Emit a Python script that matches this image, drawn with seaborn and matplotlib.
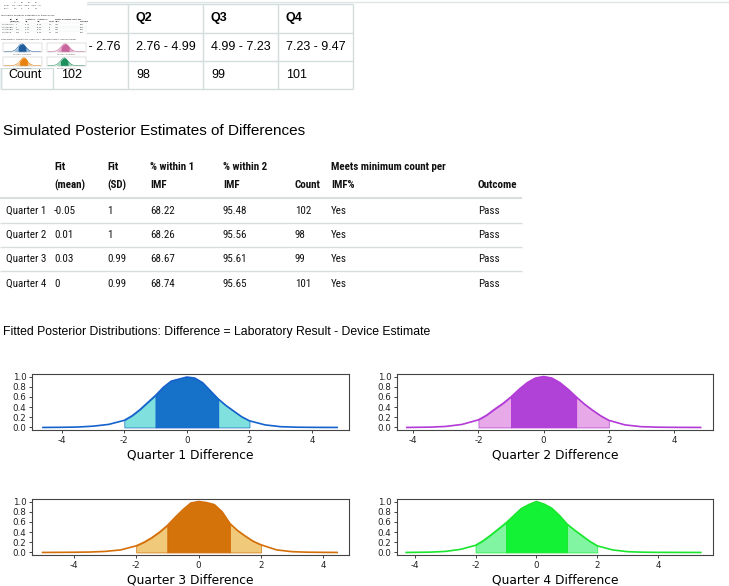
import numpy as np
import pandas as pd
import matplotlib
matplotlib.use("Agg")
import matplotlib.pyplot as plt
from matplotlib import font_manager
from matplotlib.font_manager import FontProperties
import seaborn as sns

# ---------------- data ----------------
quarters = ["Q1", "Q2", "Q3", "Q4"]
ranges = ["0.53 - 2.76", "2.76 - 4.99", "4.99 - 7.23", "7.23 - 9.47"]
counts = [102, 98, 99, 101]

row_labels = ["Quarter 1", "Quarter 2", "Quarter 3", "Quarter 4"]
fit_mean = ["-0.05", "0.01", "0.03", "0"]
fit_sd = ["1", "1", "0.99", "0.99"]
within1 = ["68.22", "68.26", "68.67", "68.74"]
within2 = ["95.48", "95.56", "95.61", "95.65"]
meets = ["Yes", "Yes", "Yes", "Yes"]
outcome = ["Pass", "Pass", "Pass", "Pass"]
headers = [("", ""), ("Fit", "(mean)"), ("Fit", "(SD)"), ("% within 1", "IMF"),
           ("% within 2", "IMF"), ("", "Count"), ("Meets minimum count per", "IMF%"),
           ("", "Outcome")]

title2 = "Simulated Posterior Estimates of Differences"
caption = "Fitted Posterior Distributions: Difference = Laboratory Result - Device Estimate"
xlabels = ["Quarter 1 Difference", "Quarter 2 Difference",
           "Quarter 3 Difference", "Quarter 4 Difference"]

# fitted posterior curves (scaled so peak = 1)
q1_x = [-4.6, -4, -3.5, -3, -2.5, -2, -1.75, -1.5, -1.25, -1, -0.75, -0.5, -0.25, 0,
        0.25, 0.5, 0.75, 1, 1.25, 1.5, 1.75, 2, 2.5, 3, 3.5, 4, 4.8]
q1_y = [0.0, 0.003, 0.008, 0.025, 0.06, 0.14, 0.23, 0.35, 0.49, 0.63, 0.79, 0.91, 0.95, 0.99,
        0.97, 0.88, 0.72, 0.56, 0.43, 0.32, 0.21, 0.13, 0.05, 0.015, 0.005, 0.002, 0.0]
q2_x = [-4.2, -4, -3.5, -3, -2.5, -2, -1.75, -1.5, -1.25, -1, -0.75, -0.5, -0.25, 0,
        0.25, 0.5, 0.75, 1, 1.25, 1.5, 1.75, 2, 2.5, 3, 3.5, 4, 4.82]
q2_y = [0.0, 0.002, 0.006, 0.02, 0.06, 0.15, 0.24, 0.36, 0.47, 0.60, 0.75, 0.88, 0.97, 1.0,
        0.97, 0.88, 0.75, 0.60, 0.46, 0.34, 0.23, 0.14, 0.05, 0.015, 0.005, 0.002, 0.0]
q3_x = [-5.0, -4.5, -4, -3.5, -3, -2.5, -2, -1.75, -1.5, -1.25, -1, -0.75, -0.5, -0.25, 0,
        0.25, 0.5, 0.75, 1, 1.25, 1.5, 1.75, 2, 2.5, 3, 3.5, 4, 4.44]
q3_y = [0.0, 0.002, 0.004, 0.008, 0.02, 0.05, 0.13, 0.20, 0.29, 0.40, 0.53, 0.69, 0.84, 0.97, 1.0,
        0.98, 0.94, 0.80, 0.57, 0.43, 0.32, 0.22, 0.15, 0.05, 0.015, 0.005, 0.002, 0.0]
q4_x = [-4.28, -4, -3.5, -3, -2.5, -2, -1.75, -1.5, -1.25, -1, -0.75, -0.5, -0.25, 0,
        0.25, 0.5, 0.75, 1, 1.25, 1.5, 1.75, 2, 2.5, 3, 3.5, 4, 4.5, 5.4]
q4_y = [0.0, 0.002, 0.006, 0.02, 0.06, 0.14, 0.23, 0.34, 0.46, 0.58, 0.72, 0.86, 0.94, 1.0,
        0.95, 0.87, 0.73, 0.56, 0.44, 0.33, 0.22, 0.13, 0.05, 0.015, 0.005, 0.002, 0.001, 0.0]
curves_x = [q1_x, q2_x, q3_x, q4_x]
curves_y = [q1_y, q2_y, q3_y, q4_y]

line_cols = ["#1562cc", "#b23ad6", "#d46f08", "#1ae62e"]
inner_cols = ["#1672c8", "#b042d8", "#d37309", "#14f236"]
outer_cols = ["#7fe0dd", "#e7a9e7", "#f0c97a", "#82f5a2"]
thumb_inner = ["#1f5d9c", "#c9659d", "#e8820c", "#1b8f5c"]
thumb_outer = ["#9dbfe0", "#e6aed0", "#f6c98e", "#9fd7bb"]

# ---------------- fonts ----------------
plt.rcParams["axes.unicode_minus"] = False
SANS = ["Liberation Sans", "DejaVu Sans"]


def is_narrow(f):
    nm = (f.name + " " + f.fname).lower()
    if "narrow" in nm or "condensed" in nm or "cond" in nm:
        return True
    st = f.stretch
    if isinstance(st, str):
        return st in ("condensed", "semi-condensed", "extra-condensed")
    return isinstance(st, (int, float)) and st < 500


def wnum(w):
    if isinstance(w, (int, float)):
        return int(w)
    return {"light": 300, "normal": 400, "regular": 400, "book": 400, "medium": 500,
            "semibold": 600, "demibold": 600, "bold": 700, "heavy": 800,
            "black": 900}.get(str(w).lower(), 400)


cands = [f for f in font_manager.fontManager.ttflist
         if is_narrow(f) and f.style == "normal"]
by_family = {}
for f in cands:
    by_family.setdefault(f.name, []).append(f)
pref = ["liberation sans narrow", "arial narrow", "roboto condensed",
        "dejavu sans", "noto sans", "open sans"]


def fam_rank(name):
    n = name.lower()
    for i, p in enumerate(pref):
        if n.startswith(p):
            return i
    return len(pref)


reg_fp, bold_fp = None, None
best = None
for name, fl in sorted(by_family.items(), key=lambda kv: fam_rank(kv[0])):
    regs = [f for f in fl if 350 <= wnum(f.weight) <= 450]
    bolds = [f for f in fl if wnum(f.weight) >= 600]
    if regs and bolds:
        best = (regs[0], sorted(bolds, key=lambda f: abs(wnum(f.weight) - 700))[0])
        break
if best is not None:
    reg_fp = FontProperties(fname=best[0].fname)
    bold_fp = FontProperties(fname=best[1].fname)
    NSIZE = 7.9
else:
    reg_fp = FontProperties(family=SANS)
    bold_fp = FontProperties(family=SANS, weight="bold")
    NSIZE = 7.2

# ---------------- figure ----------------
W, H = 729, 586
fig = plt.figure(figsize=(W / 100, H / 100), dpi=100)
fig.patch.set_facecolor("white")

bg = fig.add_axes([0, 0, 1, 1])
bg.set_xlim(0, W)
bg.set_ylim(H, 0)
bg.axis("off")


def hline(ax, x0, x1, y, color, lw=0.75, z=1):
    ax.plot([x0, x1], [y, y], color=color, lw=lw, solid_capstyle="butt", zorder=z)


def vline(ax, x, y0, y1, color, lw=0.75, z=1):
    ax.plot([x, x], [y0, y1], color=color, lw=lw, solid_capstyle="butt", zorder=z)


def ntext(x, y, s, bold=False):
    fp = (bold_fp if bold else reg_fp).copy()
    fp.set_size(NSIZE)
    bg.text(x, y, s, fontproperties=fp, va="center", color="#111111")


# page top rule
hline(bg, 87, W, 1.5, "#e0e5e5", lw=1.0)

# ---- top table ----
gc = "#d2dddd"
tcols = [1, 53, 128, 203, 278, 353]
trows = [4, 33, 61, 89]
for y in trows:
    hline(bg, tcols[0], tcols[-1], y, gc, lw=1.0)
for x in tcols:
    vline(bg, x, trows[0], trows[-1], gc, lw=1.0)
for i, q in enumerate(quarters):
    x = tcols[i + 1] + 8
    bg.text(x, 18.5, q, fontsize=9, fontweight="bold", family=SANS, va="center")
    bg.text(x, 47, ranges[i], fontsize=9, family=SANS, va="center")
    bg.text(x, 75.5, str(counts[i]), fontsize=9, family=SANS, va="center")
bg.text(8, 47, "Range", fontsize=9, family=SANS, va="center")
bg.text(8, 75.5, "Count", fontsize=9, family=SANS, va="center")

# ---- section 2 ----
bg.text(3, 131, title2, fontsize=11, family=SANS, va="center")
hx = [6, 54, 107, 150, 223, 295, 331, 478]
for x, (l1, l2) in zip(hx, headers):
    if l1:
        ntext(x, 167, l1, bold=True)
    if l2:
        ntext(x, 185, l2, bold=True)
row_y = [211, 235, 259, 284]
lc = "#d9dddd"
hline(bg, 0, 522, 198, lc, lw=1.5)
for y in [223, 247, 271]:
    hline(bg, 0, 522, y, lc, lw=1.0)
for i in range(4):
    vals = [row_labels[i], fit_mean[i], fit_sd[i], within1[i], within2[i],
            str(counts[i]), meets[i], outcome[i]]
    for x, v in zip(hx, vals):
        ntext(x, row_y[i], v)

# ---- section 3 ----
bg.text(3, 332, caption, fontsize=8.85, family=SANS, va="center")


def px_axes(x0, y0, x1, y1, z=2):
    return fig.add_axes([x0 / W, 1 - y1 / H, (x1 - x0) / W, (y1 - y0) / H], zorder=z)


boxes = [(32, 374, 349, 430), (397, 374, 713, 430),
         (32, 499, 349, 555), (397, 499, 713, 555)]
xlims = [(-4.95, 5.18), (-4.5, 5.2), (-5.34, 4.82), (-4.58, 5.8)]

for i in range(4):
    ax = px_axes(*boxes[i])
    x = np.array(curves_x[i])
    y = np.array(curves_y[i])
    df = pd.DataFrame({"x": x, "y": y})
    m_in = (x >= -1) & (x <= 1)
    m_l = (x >= -2) & (x <= -1)
    m_r = (x >= 1) & (x <= 2)
    ax.fill_between(x[m_l], 0, y[m_l], facecolor=outer_cols[i], edgecolor=inner_cols[i],
                    lw=0.5, alpha=1)
    ax.fill_between(x[m_r], 0, y[m_r], facecolor=outer_cols[i], edgecolor=inner_cols[i],
                    lw=0.5, alpha=1)
    ax.fill_between(x[m_in], 0, y[m_in], facecolor=inner_cols[i], edgecolor=line_cols[i],
                    lw=0.6, alpha=1)
    sns.lineplot(data=df, x="x", y="y", ax=ax, color=line_cols[i], lw=1.2,
                 estimator=None, sort=False)
    ax.set_xlim(*xlims[i])
    ax.set_ylim(-0.05, 1.05)
    ax.set_xticks([-4, -2, 0, 2, 4])
    ax.set_yticks([0, 0.2, 0.4, 0.6, 0.8, 1.0])
    ax.set_yticklabels(["0.0", "0.2", "0.4", "0.6", "0.8", "1.0"])
    ax.tick_params(labelsize=6.3, length=2.5, width=0.6, pad=1.5, colors="#222222")
    for s in ax.spines.values():
        s.set_color("#444444")
        s.set_linewidth(0.8)
    ax.set_ylabel("")
    ax.set_xlabel(xlabels[i], fontsize=8.8, labelpad=3)
    ax.set_facecolor("white")

# ---- thumbnail (small snapshot of the page) ----
th = fig.add_axes([0, 1 - 68 / H, 87 / W, 68 / H], zorder=5)
th.set_xlim(0, 87)
th.set_ylim(68, 0)
th.set_facecolor("white")
th.set_xticks([])
th.set_yticks([])
for s in th.spines.values():
    s.set_visible(False)
vline(th, 86.5, 0, 68, "#d8dede", lw=0.8)
tf = 1.3
for i, q in enumerate(quarters):
    th.text(14 + 7 * i, 2.2, q, fontsize=tf, color="#333333", va="center")
    th.text(12 + 7 * i, 5.2, ranges[i], fontsize=tf * 0.7, color="#333333", va="center")
    th.text(14 + 7 * i, 8.2, str(counts[i]), fontsize=tf, color="#333333", va="center")
th.text(4, 5.2, "Range", fontsize=tf, color="#333333", va="center")
th.text(4, 8.2, "Count", fontsize=tf, color="#333333", va="center")
th.text(1, 15, title2, fontsize=1.7, color="#222222", va="center")
thx = [2, 10, 16, 25, 37, 49, 55, 80]
for x, (l1, l2) in zip(thx, headers):
    if l1:
        th.text(x, 19.5, l1, fontsize=tf, fontweight="bold", color="#333333", va="center")
    if l2:
        th.text(x, 21.5, l2, fontsize=tf, fontweight="bold", color="#333333", va="center")
for i in range(4):
    vals = [row_labels[i], fit_mean[i], fit_sd[i], within1[i], within2[i],
            str(counts[i]), meets[i], outcome[i]]
    for x, v in zip(thx, vals):
        th.text(x, 24.5 + 2.6 * i, v, fontsize=tf, color="#333333", va="center")
    hline(th, 0, 87, 23.2 + 2.6 * i, "#e4e8e8", lw=0.3)
th.text(1, 39, caption, fontsize=1.35, color="#333333", va="center")

tboxes = [(3, 43, 42, 52), (47, 43, 86, 52), (3, 57, 42, 66), (47, 57, 86, 66)]
for i in range(4):
    x0, y0, x1, y1 = tboxes[i]
    ta = px_axes(x0, y0, x1, y1, z=6)
    x = np.array(curves_x[i])
    y = np.array(curves_y[i])
    m_in = (x >= -1) & (x <= 1)
    m_o = (x >= -2) & (x <= 2)
    ta.fill_between(x[m_o], 0, y[m_o], color=thumb_outer[i], lw=0)
    ta.fill_between(x[m_in], 0, y[m_in], color=thumb_inner[i], lw=0)
    sns.lineplot(x=x, y=y, ax=ta, color=thumb_inner[i], lw=0.4, estimator=None, sort=False)
    ta.set_xlim(*xlims[i])
    ta.set_ylim(-0.05, 1.1)
    ta.set_xticks([])
    ta.set_yticks([])
    ta.set_xlabel("")
    ta.set_ylabel("")
    for s in ta.spines.values():
        s.set_color("#bbbbbb")
        s.set_linewidth(0.3)
    th.text((x0 + x1) / 2, y1 + 2, xlabels[i], fontsize=1.3, color="#444444",
            ha="center", va="center")

# count cell box drawn over the thumbnail edge
hline(bg, 0, 53, 68, gc, lw=1.0, z=1)
vline(bg, 1, 68, 89, gc, lw=1.0)

fig.savefig("out.png", dpi=100, facecolor="white")
